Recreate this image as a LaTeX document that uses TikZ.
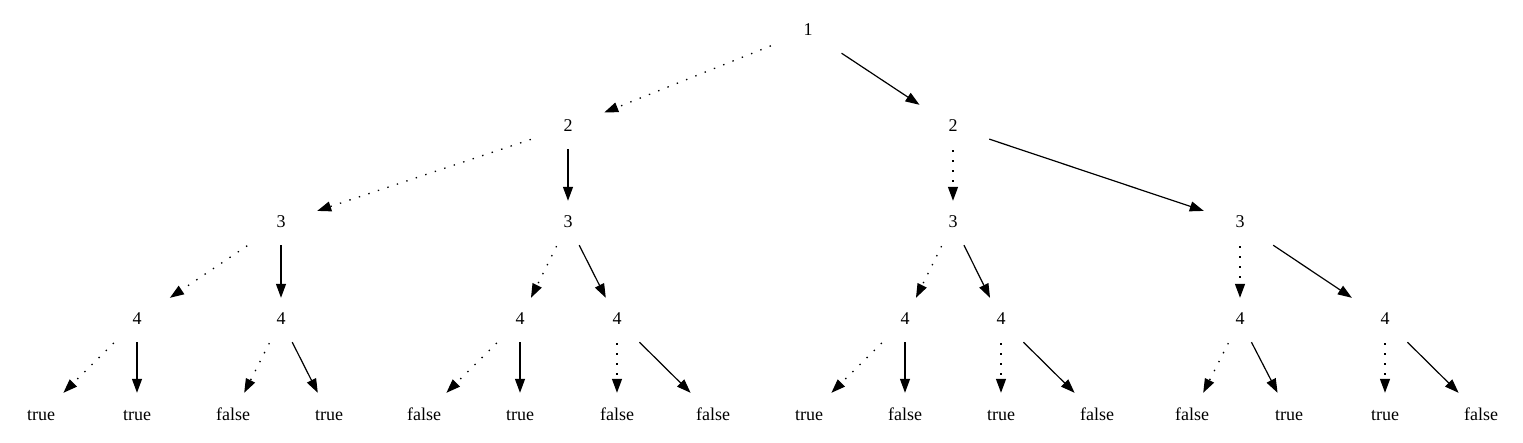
\documentclass[tikz,border=0pt]{standalone}
\usepackage{fontspec}
\setmainfont{Liberation Serif}
\usetikzlibrary{arrows.meta}
\begin{document}
\begin{tikzpicture}[x=1pt,y=-1pt,
  nd/.style={minimum width=72pt,minimum height=44pt,inner sep=0pt,text height=12pt,text depth=2pt,font=\fontsize{18}{20}\selectfont},
  lo/.style={draw,line width=1.3pt,dash pattern=on 1.4pt off 8.6pt,-{Triangle[length=14pt,width=10pt]},shorten <=1pt},
  hi/.style={draw,line width=1.2pt,-{Triangle[length=14pt,width=10pt]}}]
\useasboundingbox (0,0) rectangle (1523,443);
% level 0
\node[nd] (r) at (808,31) {1};
% level 1
\node[nd] (a) at (568,127) {2};
\node[nd] (b) at (953,127) {2};
% level 2
\node[nd] (aa) at (281,223) {3};
\node[nd] (ab) at (568,223) {3};
\node[nd] (ba) at (953,223) {3};
\node[nd] (bb) at (1240,223) {3};
% level 3
\node[nd] (c1) at (137,320) {4};
\node[nd] (c2) at (281,320) {4};
\node[nd] (c3) at (520,320) {4};
\node[nd] (c4) at (617,320) {4};
\node[nd] (c5) at (905,320) {4};
\node[nd] (c6) at (1001,320) {4};
\node[nd] (c7) at (1240,320) {4};
\node[nd] (c8) at (1385,320) {4};
% leaves
\node[nd] (l1) at (41,415) {true};
\node[nd] (l2) at (137,415) {true};
\node[nd] (l3) at (233,415) {false};
\node[nd] (l4) at (329,415) {true};
\node[nd] (l5) at (424,415) {false};
\node[nd] (l6) at (520,415) {true};
\node[nd] (l7) at (617,415) {false};
\node[nd] (l8) at (713,415) {false};
\node[nd] (l9) at (809,415) {true};
\node[nd] (l10) at (905,415) {false};
\node[nd] (l11) at (1001,415) {true};
\node[nd] (l12) at (1097,415) {false};
\node[nd] (l13) at (1192,415) {false};
\node[nd] (l14) at (1289,415) {true};
\node[nd] (l15) at (1385,415) {true};
\node[nd] (l16) at (1481,415) {false};
% edges
\draw[lo] (r) -- (a);  \draw[hi] (r) -- (b);
\draw[lo] (a) -- (aa); \draw[hi] (a) -- (ab);
\draw[lo] (b) -- (ba); \draw[hi] (b) -- (bb);
\draw[lo] (aa) -- (c1); \draw[hi] (aa) -- (c2);
\draw[lo] (ab) -- (c3); \draw[hi] (ab) -- (c4);
\draw[lo] (ba) -- (c5); \draw[hi] (ba) -- (c6);
\draw[lo] (bb) -- (c7); \draw[hi] (bb) -- (c8);
\draw[lo] (c1) -- (l1);  \draw[hi] (c1) -- (l2);
\draw[lo] (c2) -- (l3);  \draw[hi] (c2) -- (l4);
\draw[lo] (c3) -- (l5);  \draw[hi] (c3) -- (l6);
\draw[lo] (c4) -- (l7);  \draw[hi] (c4) -- (l8);
\draw[lo] (c5) -- (l9);  \draw[hi] (c5) -- (l10);
\draw[lo] (c6) -- (l11); \draw[hi] (c6) -- (l12);
\draw[lo] (c7) -- (l13); \draw[hi] (c7) -- (l14);
\draw[lo] (c8) -- (l15); \draw[hi] (c8) -- (l16);
\end{tikzpicture}
\end{document}
